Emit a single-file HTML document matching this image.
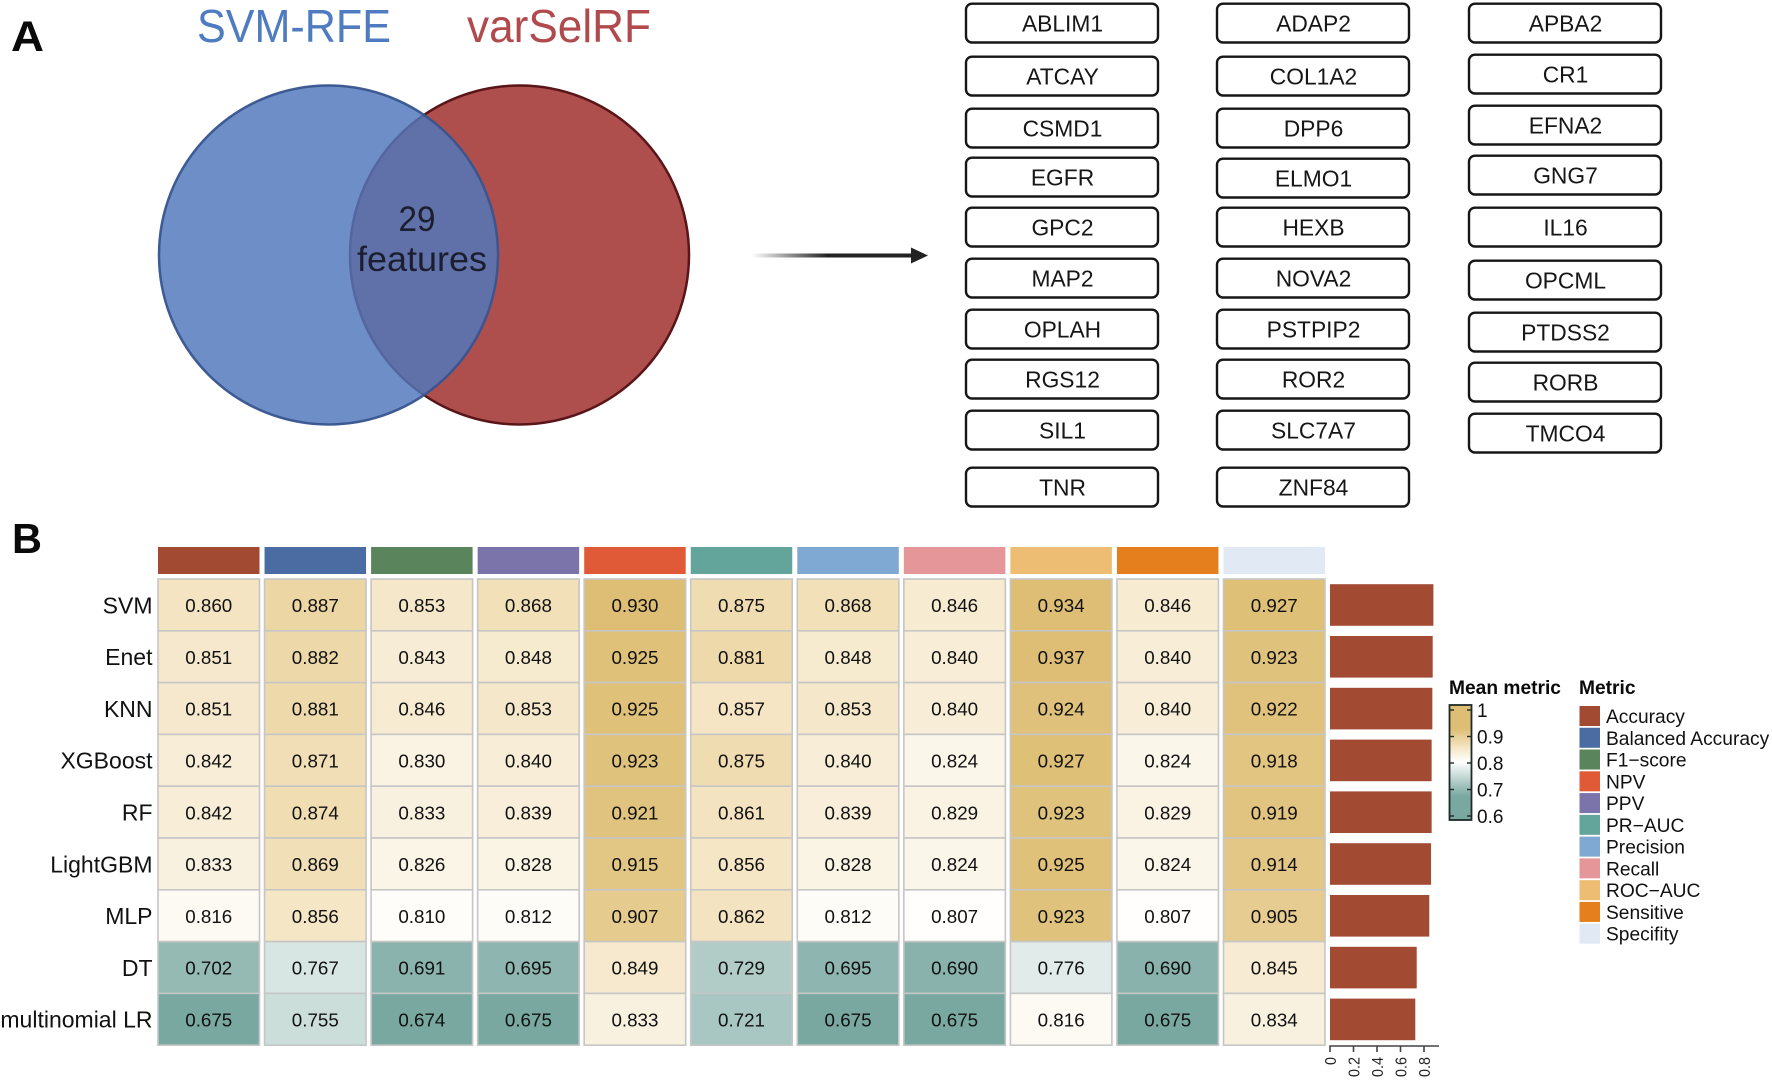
<!DOCTYPE html>
<html lang="en">
<head>
<meta charset="utf-8">
<title>Feature selection venn and model metric heatmap</title>
<style>
html,body{margin:0;padding:0;background:#fff;width:1772px;height:1080px;overflow:hidden}
svg{display:block;font-family:"Liberation Sans",sans-serif}
</style>
</head>
<body>
<svg id="fig" xmlns="http://www.w3.org/2000/svg" width="1772" height="1080" viewBox="0 0 1772 1080">
  <defs>
    <linearGradient id="arrowFade" x1="752" x2="920" y1="0" y2="0" gradientUnits="userSpaceOnUse">
      <stop offset="0" stop-color="#222" stop-opacity="0"/>
      <stop offset="0.45" stop-color="#222" stop-opacity="1"/>
      <stop offset="1" stop-color="#222"/>
    </linearGradient>
    <linearGradient id="cbarGrad" x1="0" x2="0" y1="0" y2="1"></linearGradient>
  </defs>
  <rect width="1772" height="1080" fill="#fff"/>
  <g id="panel-a">
    <text x="11" y="51" font-size="43" font-weight="700" fill="#0a0a0a" textLength="33" lengthAdjust="spacingAndGlyphs">A</text>
    <text x="197" y="42" font-size="46" fill="#4f7cc0" textLength="194" lengthAdjust="spacingAndGlyphs">SVM-RFE</text>
    <text x="467" y="42" font-size="46" fill="#b04a4c" textLength="184" lengthAdjust="spacingAndGlyphs">varSelRF</text>
    <circle cx="519.5" cy="255" r="169.5" fill="#ae4f4e" stroke="#5a1518" stroke-width="2.5"/>
    <circle cx="328.5" cy="255" r="169.5" fill="#5177bc" fill-opacity="0.83" stroke="#38548f" stroke-opacity="0.95" stroke-width="2.5"/>
    <text x="417" y="231" font-size="35" fill="#1b1e2e" text-anchor="middle" textLength="37" lengthAdjust="spacingAndGlyphs">29</text>
    <text x="357" y="271" font-size="35" fill="#1b1e2e" textLength="130" lengthAdjust="spacingAndGlyphs">features</text>
    <rect x="752" y="253.5" width="166" height="4" fill="url(#arrowFade)"/>
    <polygon points="911,247.5 928,255.5 911,263.5" fill="#222"/>
    <g id="genes"></g>
  </g>
  <g id="panel-b">
    <text x="12" y="553" font-size="42" font-weight="700" fill="#0a0a0a" textLength="30" lengthAdjust="spacingAndGlyphs">B</text>
    <g id="annot"></g>
    <g id="heat"></g>
    <g id="rowlabels"></g>
    <g id="bars"></g>
    <g id="baraxis"></g>
    <g id="cbar">
      <text x="1449" y="694" font-size="19.2" font-weight="700" fill="#0a0a0a">Mean metric</text>
    </g>
    <g id="legend">
      <text x="1579" y="694" font-size="19.2" font-weight="700" fill="#0a0a0a">Metric</text>
    </g>
  </g>
</svg>
<script>
const geneColumns = [
  ["ABLIM1","ATCAY","CSMD1","EGFR","GPC2","MAP2","OPLAH","RGS12","SIL1","TNR"],
  ["ADAP2","COL1A2","DPP6","ELMO1","HEXB","NOVA2","PSTPIP2","ROR2","SLC7A7","ZNF84"],
  ["APBA2","CR1","EFNA2","GNG7","IL16","OPCML","PTDSS2","RORB","TMCO4"]
];
const models = ["SVM","Enet","KNN","XGBoost","RF","LightGBM","MLP","DT","multinomial LR"];
const metrics = ["Accuracy","Balanced Accuracy","F1\u2212score","NPV","PPV","PR\u2212AUC","Precision","Recall","ROC\u2212AUC","Sensitive","Specifity"];
const metricColors = ["#a34a33","#4a6ca3","#5a845b","#e15a38","#7a74ab","#64a59b","#7fa8d3","#e49699","#edbd74","#e57f1d","#e1e9f5"];
const columnMetricOrder = [0,1,2,4,3,5,6,7,8,9,10];
const svmValues = [0.860,0.887,0.853,0.868,0.930,0.875,0.868,0.846,0.934,0.846,0.927];
const enetValues = [0.851,0.882,0.843,0.848,0.925,0.881,0.848,0.840,0.937,0.840,0.923];
const knnValues = [0.851,0.881,0.846,0.853,0.925,0.857,0.853,0.840,0.924,0.840,0.922];
const xgboostValues = [0.842,0.871,0.830,0.840,0.923,0.875,0.840,0.824,0.927,0.824,0.918];
const rfValues = [0.842,0.874,0.833,0.839,0.921,0.861,0.839,0.829,0.923,0.829,0.919];
const lightgbmValues = [0.833,0.869,0.826,0.828,0.915,0.856,0.828,0.824,0.925,0.824,0.914];
const mlpValues = [0.816,0.856,0.810,0.812,0.907,0.862,0.812,0.807,0.923,0.807,0.905];
const dtValues = [0.702,0.767,0.691,0.695,0.849,0.729,0.695,0.690,0.776,0.690,0.845];
const lrValues = [0.675,0.755,0.674,0.675,0.833,0.721,0.675,0.675,0.816,0.675,0.834];
const meanMetric = [0.88,0.874,0.871,0.865,0.865,0.86,0.845,0.738,0.726];
const barTicks = [0,0.2,0.4,0.6,0.8];
const colorbarTicks = [1,0.9,0.8,0.7,0.6];

const heatRows = [svmValues,enetValues,knnValues,xgboostValues,rfValues,lightgbmValues,mlpValues,dtValues,lrValues];
const NS = "http://www.w3.org/2000/svg";
function mk(parent, tag, attrs, txt){
  const e = document.createElementNS(NS, tag);
  for (const k in attrs) e.setAttribute(k, attrs[k]);
  if (txt !== undefined) e.textContent = txt;
  parent.appendChild(e);
  return e;
}
function lerp(a,b,t){return Math.round(a+(b-a)*t);}
function rgb(a,b,t){return "rgb("+lerp(a[0],b[0],t)+","+lerp(a[1],b[1],t)+","+lerp(a[2],b[2],t)+")";}
const cLow=[121,168,160], cMid=[255,255,255], cWarm1=[244,228,194], cWarm2=[235,212,160], cHigh=[221,190,116];
function colorOf(v){
  if (v<=0.805){const t=Math.min(1,(0.805-v)/0.13);return rgb(cMid,cLow,t);}
  if (v<=0.86) return rgb(cMid,cWarm1,(v-0.805)/0.055);
  if (v<=0.89) return rgb(cWarm1,cWarm2,(v-0.86)/0.03);
  return rgb(cWarm2,cHigh,Math.min(1,(v-0.89)/0.04));
}
const colX = i => 158 + i*106.55;
const COLW = 101.5;
const rowY = i => 579 + i*51.8;
const ROWH = 51.8;
const barX = v => 1330 + v*117.5;
const cbarY = v => 816 - (v-0.6)*265;

/* gene boxes */
const geneXs = [965,1216,1468];
const geneTops = [
  [3,56,108,157,207,258,309,359,410,467],
  [3,56,108,158,207,258,309,359,410,467],
  [3,54,105,155,207,260,312,362,413]
];
const genesG = document.getElementById("genes");
geneColumns.forEach((col,c)=>{
  col.forEach((g,r)=>{
    const box = mk(genesG,"rect",{x:geneXs[c]+1,y:geneTops[c][r]+0.7,width:192,height:38.8,rx:6,ry:6,fill:"#fff",stroke:"#161616","stroke-width":2.4});
    
    
    const t = mk(genesG,"text",{x:geneXs[c]+97.5,y:geneTops[c][r]+28.4,"font-size":22.8,"text-anchor":"middle",fill:"#161616"},g);
    
    
  });
});

/* annotation strip */
const annotG = document.getElementById("annot");
columnMetricOrder.forEach((m,c)=>{
  const a = mk(annotG,"rect",{x:colX(c),y:547,width:COLW,height:27,fill:metricColors[m]});
  
  
});

/* heatmap */
const heatG = document.getElementById("heat");
heatRows.forEach((row,r)=>{
  row.forEach((v,c)=>{
    const cell = mk(heatG,"rect",{x:colX(c),y:rowY(r),width:COLW,height:ROWH,fill:colorOf(v),stroke:"#c6c6c6","stroke-width":1.6});
    
    
    const t = mk(heatG,"text",{x:colX(c)+COLW/2,y:rowY(r)+ROWH/2+7.2,"font-size":18.8,"text-anchor":"middle",fill:"#111"},v.toFixed(3));
    
    
  });
});

/* row labels */
const rowG = document.getElementById("rowlabels");
models.forEach((m,r)=>{
  const t = mk(rowG,"text",{x:152.5,y:rowY(r)+ROWH/2+8.4,"font-size":23,"text-anchor":"end",fill:"#111"},m);
  
  
});

/* bars */
const barsG = document.getElementById("bars");
meanMetric.forEach((v,r)=>{
  const b = mk(barsG,"rect",{x:barX(0),y:rowY(r)+5.2,width:barX(v)-barX(0),height:41.6,fill:"#a34a33"});
  
  
});
const axisG = document.getElementById("baraxis");
const axisLine = mk(axisG,"line",{x1:barX(0)-0.7,x2:1439,y1:1046,y2:1046,stroke:"#444","stroke-width":1.6});


barTicks.forEach(v=>{
  const tk = mk(axisG,"line",{x1:barX(v),x2:barX(v),y1:1046,y2:1052,stroke:"#444","stroke-width":1.6});
  
  
  const x = barX(v)+5.8;
  const label = String(v);
  const t = mk(axisG,"text",{x:x,y:1057,"font-size":16,"text-anchor":"end",fill:"#222",textLength:label.length===1?8:20,lengthAdjust:"spacingAndGlyphs",transform:"rotate(-90 "+x+" 1057)"},label);
  
  
});

/* colorbar */
const grad = document.getElementById("cbarGrad");
const cbTop = 705, cbBottom = 820;
for (let i=0;i<=40;i++){
  const f = i/40;
  const y = cbTop + f*(cbBottom-cbTop);
  const v = 0.6 + (816-y)/265;
  mk(grad,"stop",{offset:f,"stop-color":colorOf(v)});
}
const cbG = document.getElementById("cbar");
const cbRect = mk(cbG,"rect",{x:1449.5,y:cbTop,width:22,height:cbBottom-cbTop,fill:"url(#cbarGrad)",stroke:"#1d2a28","stroke-width":1.8});


colorbarTicks.forEach(v=>{
  const y = cbarY(v);
  const l = mk(cbG,"line",{x1:1449.5,x2:1454,y1:y,y2:y,stroke:"#1d2a28","stroke-width":1.4});
  
  
  const r = mk(cbG,"line",{x1:1467,x2:1471.5,y1:y,y2:y,stroke:"#1d2a28","stroke-width":1.4});
  
  
  const t = mk(cbG,"text",{x:1477,y:y+7,"font-size":19,fill:"#111"},String(v));
  
  
});

/* legend */
const legG = document.getElementById("legend");
metrics.forEach((m,i)=>{
  const y = 706 + i*21.77;
  const s = mk(legG,"rect",{x:1579.5,y:y,width:20.5,height:20,fill:metricColors[i]});
  
  
  const t = mk(legG,"text",{x:1606,y:y+17,"font-size":19.2,fill:"#111"},m);
  
  
});
</script>
</body>
</html>
